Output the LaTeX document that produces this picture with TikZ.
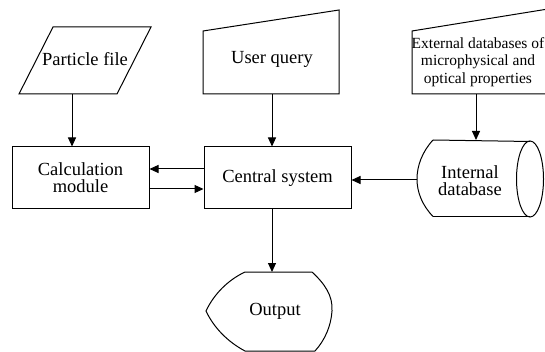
\documentclass[tikz,border=0pt]{standalone}
\usepackage{fontspec}
\setmainfont{Liberation Serif}
\usetikzlibrary{arrows.meta}
\begin{document}
\begin{tikzpicture}[x=1pt,y=-1pt,line width=1pt,
  conn/.style={-{Triangle[length=9pt,width=8pt]}},
  txt/.style={font=\fontsize{18.5}{17}\selectfont,align=center,inner sep=0pt},
  smalltxt/.style={font=\fontsize{15.5}{17.5}\selectfont,align=center,inner sep=0pt},
  box/.style={draw,rectangle,inner sep=0pt,font=\fontsize{18.5}{17}\selectfont,align=center}]
\useasboundingbox (0,0) rectangle (545,352);

% input: particle file (parallelogram)
\draw (53,27) -- (151,27) -- (117,94) -- (19,94) -- cycle;
\node[txt] (pf) at (85,59) {Particle file};
\coordinate (pfout) at (72,94);

% manual input: user query
\draw (203,31) -- (339,10) -- (339,94) -- (203,94) -- cycle;
\node[txt] (uq) at (272,59) {User query};
\coordinate (uqout) at (272,94);

% manual input: external databases (runs past the right border)
\draw (548,9) -- (412,31) -- (412,94) -- (548,94);
\node[smalltxt] (ext) at (478,62) {External databases of\\microphysical and\\optical properties};
\coordinate (extout) at (476,94);

% process boxes
\node[box,minimum width=137pt,minimum height=62pt] (calc) at (80.5,178) {Calculation\\module};
\node[box,minimum width=147pt,minimum height=62pt] (central) at (277.5,178) {Central system};

% stored data: internal database (horizontal cylinder)
\draw (433,140) -- (530,141.5);
\draw (433,216.5) -- (530,216.5);
\draw (433,140) .. controls (422,152) and (417,166) .. (417,179)
      .. controls (417,192) and (422,205) .. (433,216.5);
\draw (530,179) ellipse [x radius=13.5pt,y radius=38pt];
\node[txt] (idb) at (470,181) {Internal\\database};
\coordinate (idbin) at (476,140);
\coordinate (idbout) at (417,180);

% display: output
\draw (245,272) -- (312,272)
      .. controls (325,284) and (333,296) .. (332,311)
      .. controls (331,326) and (325,340) .. (315,351)
      -- (245,351)
      .. controls (228,342) and (214,328) .. (206,311)
      .. controls (214,294) and (228,280) .. (245,272) -- cycle;
\node[txt] (out) at (275,311) {Output};
\coordinate (outin) at (272,272);

% connectors
\draw[conn] (pfout) -- (pfout |- calc.north);
\draw[conn] (uqout) -- (uqout |- central.north);
\draw[conn] (extout) -- (idbin);
\draw[conn] (idbout) -- (idbout -| central.east);
\draw[conn] (central.west |- 0,169) -- (calc.east |- 0,169);
\draw[conn] (calc.east |- 0,189) -- (central.west |- 0,189);
\draw[conn] (uqout |- central.south) -- (outin);
\end{tikzpicture}
\end{document}
